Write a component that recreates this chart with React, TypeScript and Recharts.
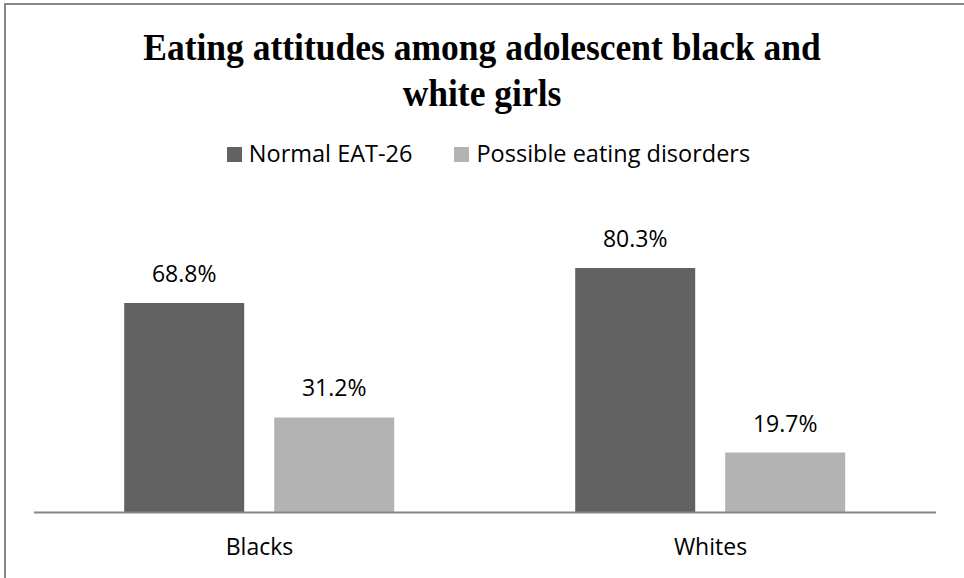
import React from "react";
import { BarChart, Bar, XAxis, YAxis, Legend, LabelList } from "recharts";

const groups = ["Blacks", "Whites"];
const normalEat = [68.8, 80.3];
const possibleDisorders = [31.2, 19.7];

const SERIES = [
  { key: "normal", name: "Normal EAT-26", color: "#626262" },
  { key: "possible", name: "Possible eating disorders", color: "#b3b3b3" },
];

const data = groups.map((g, i) => ({
  group: g,
  normal: normalEat[i],
  possible: possibleDisorders[i],
}));

const FONT = '"Open Sans", sans-serif';

// legend drawn flat: square + label, wide gap between items
const renderLegend = (props: any) => {
  const items = props.payload || [];
  return (
    <div
      style={{
        display: "flex",
        justifyContent: "center",
        fontFamily: FONT,
        fontSize: 23.5,
        paddingLeft: 13,
      }}
    >
      {items.map((it: any, i: number) => (
        <div
          key={it.value}
          style={{ display: "flex", alignItems: "center", marginRight: i < items.length - 1 ? 42 : 0 }}
        >
          <span
            style={{
              width: 15,
              height: 15,
              background: it.color,
              display: "inline-block",
              marginRight: 7,
              marginTop: 3,
            }}
          />
          <span style={{ color: "#000" }}>{it.value}</span>
        </div>
      ))}
    </div>
  );
};

export default function App() {
  return (
    <div
      style={{
        position: "absolute",
        left: 0,
        top: 0,
        width: 964,
        height: 578,
        overflow: "hidden",
        background: "#fff",
      }}
    >
      {/* chart frame, runs off the right and bottom edges */}
      <div
        style={{
          position: "absolute",
          left: 4,
          top: 3,
          width: 1000,
          height: 700,
          borderLeft: "2px solid #878787",
          borderTop: "2px solid #878787",
        }}
      />
      <div
        style={{
          position: "absolute",
          left: 0,
          top: 24,
          width: 964,
          textAlign: "center",
          fontFamily: '"Liberation Serif", "Times New Roman", serif',
          fontWeight: "bold",
          fontSize: 35.5,
          lineHeight: "43px",
          color: "#000",
          transform: "scaleY(1.08)",
          transformOrigin: "top center",
        }}
      >
        Eating attitudes among adolescent black and
        <br />
        white girls
      </div>
      <div style={{ position: "absolute", left: 0, top: 0 }}>
        <BarChart
          width={964}
          height={578}
          data={data}
          margin={{ top: 208, right: 28, bottom: 25.5, left: 34 }}
          barCategoryGap="20%"
          barGap={30}
        >
          <XAxis
            dataKey="group"
            height={40}
            axisLine={{ stroke: "#868686", strokeWidth: 2 }}
            tickLine={false}
            tickSize={0}
            tickMargin={26}
            tick={{ fill: "#000", fontSize: 23, fontFamily: FONT }}
          />
          <YAxis hide domain={[0, 100]} />
          <Legend
            verticalAlign="middle"
            content={renderLegend}
            wrapperStyle={{ top: 137, left: 0, width: 964 }}
          />
          {SERIES.map((s) => (
            <Bar key={s.key} dataKey={s.key} name={s.name} fill={s.color} isAnimationActive={false}>
              <LabelList
                dataKey={s.key}
                position="top"
                offset={21}
                formatter={(v: any) => `${v}%`}
                style={{ fill: "#000", fontSize: 23, fontFamily: FONT }}
              />
            </Bar>
          ))}
        </BarChart>
      </div>
    </div>
  );
}
